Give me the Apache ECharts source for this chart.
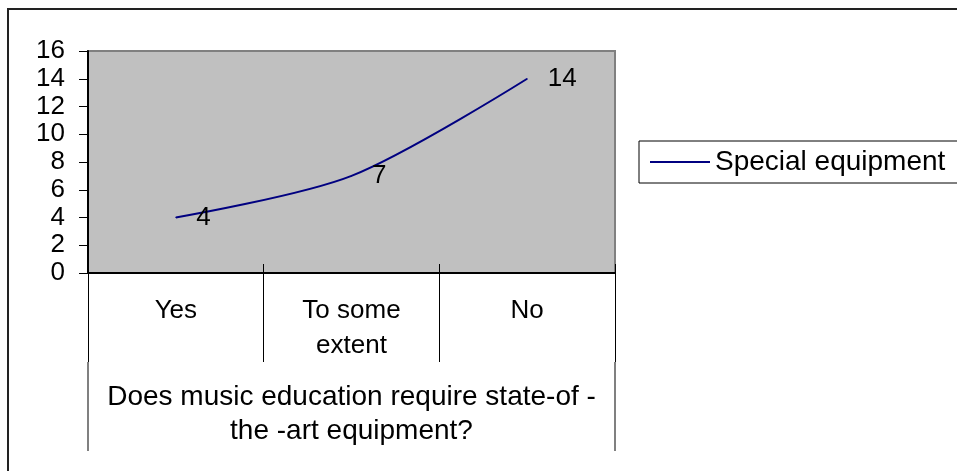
<!DOCTYPE html>
<html>
<head>
<meta charset="utf-8">
<script src="https://cdn.jsdelivr.net/npm/echarts@6/dist/echarts.min.js"></script>
<style>
  html, body { margin: 0; padding: 0; background: #fff; }
  #main { width: 957px; height: 471px; }
</style>
</head>
<body>
<div id="main"></div>
<script>
// data
var categories = ['Yes', 'To some\nextent', 'No'];
var seriesName = 'Special equipment';
var values = [4, 7, 14];
var axisTitle = 'Does music education require state-of -\nthe -art equipment?';
var yMin = 0, yMax = 16, yStep = 2;

// plot box (pixels)
var gLeft = 88, gTop = 51, gWidth = 527, gHeight = 222;
var font = '"Liberation Sans", Arial, sans-serif';

var chart = echarts.init(document.getElementById('main'));

var option = {
    backgroundColor: '#fff',
    animation: false,
    textStyle: { fontFamily: font },
    grid: {
        left: gLeft, top: gTop, width: gWidth, height: gHeight,
        show: true,
        backgroundColor: '#c0c0c0',
        borderColor: '#808080',
        borderWidth: 2
    },
    legend: {
        left: 639, top: 141,
        data: [seriesName],
        icon: 'rect',
        itemWidth: 60, itemHeight: 2,
        itemGap: 6,
        borderColor: '#000', borderWidth: 1,
        padding: [7, 40, 7, 11],
        textStyle: { fontSize: 28, color: '#000', fontFamily: font }
    },
    xAxis: [{
        type: 'category',
        data: categories,
        boundaryGap: true,
        axisLine: { lineStyle: { color: '#000', width: 2 } },
        axisTick: { show: true, inside: true, length: 9, lineStyle: { color: '#000' } },
        axisLabel: { fontSize: 26, color: '#000', margin: 20, lineHeight: 35, fontFamily: font },
        name: axisTitle,
        nameLocation: 'middle',
        nameGap: 107,
        nameTextStyle: { fontSize: 28, color: '#000', lineHeight: 34, fontFamily: font },
        splitLine: { show: false }
    }, {
        type: 'category',
        data: categories,
        position: 'bottom',
        boundaryGap: true,
        axisLine: { show: false },
        axisTick: { show: true, length: 89, lineStyle: { color: '#000' } },
        axisLabel: { show: false },
        splitLine: { show: false }
    }],
    yAxis: {
        type: 'value',
        min: yMin, max: yMax, interval: yStep,
        axisLine: { show: true, lineStyle: { color: '#000', width: 2 } },
        axisTick: { show: true, length: 9, lineStyle: { color: '#000' } },
        axisLabel: { fontSize: 26, color: '#000', margin: 23, fontFamily: font },
        splitLine: { show: false }
    },
    series: [{
        name: seriesName,
        type: 'line',
        data: values,
        smooth: 0.3,
        symbol: 'circle',
        symbolSize: 1,
        itemStyle: { color: '#000080' },
        lineStyle: { color: '#000080', width: 2 },
        label: {
            show: true, position: 'right', distance: 20,
            fontSize: 26, color: '#000', fontFamily: font
        }
    }],
    graphic: [
        // outer chart frame
        { type: 'rect', silent: true, shape: { x: 8, y: 9, width: 1200, height: 1200 },
          style: { fill: 'none', stroke: '#222', lineWidth: 2 } },
        // outer group separators of the two-level category axis
        { type: 'line', silent: true,
          shape: { x1: gLeft, y1: gTop + gHeight + 89, x2: gLeft, y2: gTop + gHeight + 178 },
          style: { stroke: '#808080', lineWidth: 2 } },
        { type: 'line', silent: true,
          shape: { x1: gLeft + gWidth, y1: gTop + gHeight + 89, x2: gLeft + gWidth, y2: gTop + gHeight + 178 },
          style: { stroke: '#808080', lineWidth: 2 } }
    ]
};

chart.setOption(option);
</script>
</body>
</html>
